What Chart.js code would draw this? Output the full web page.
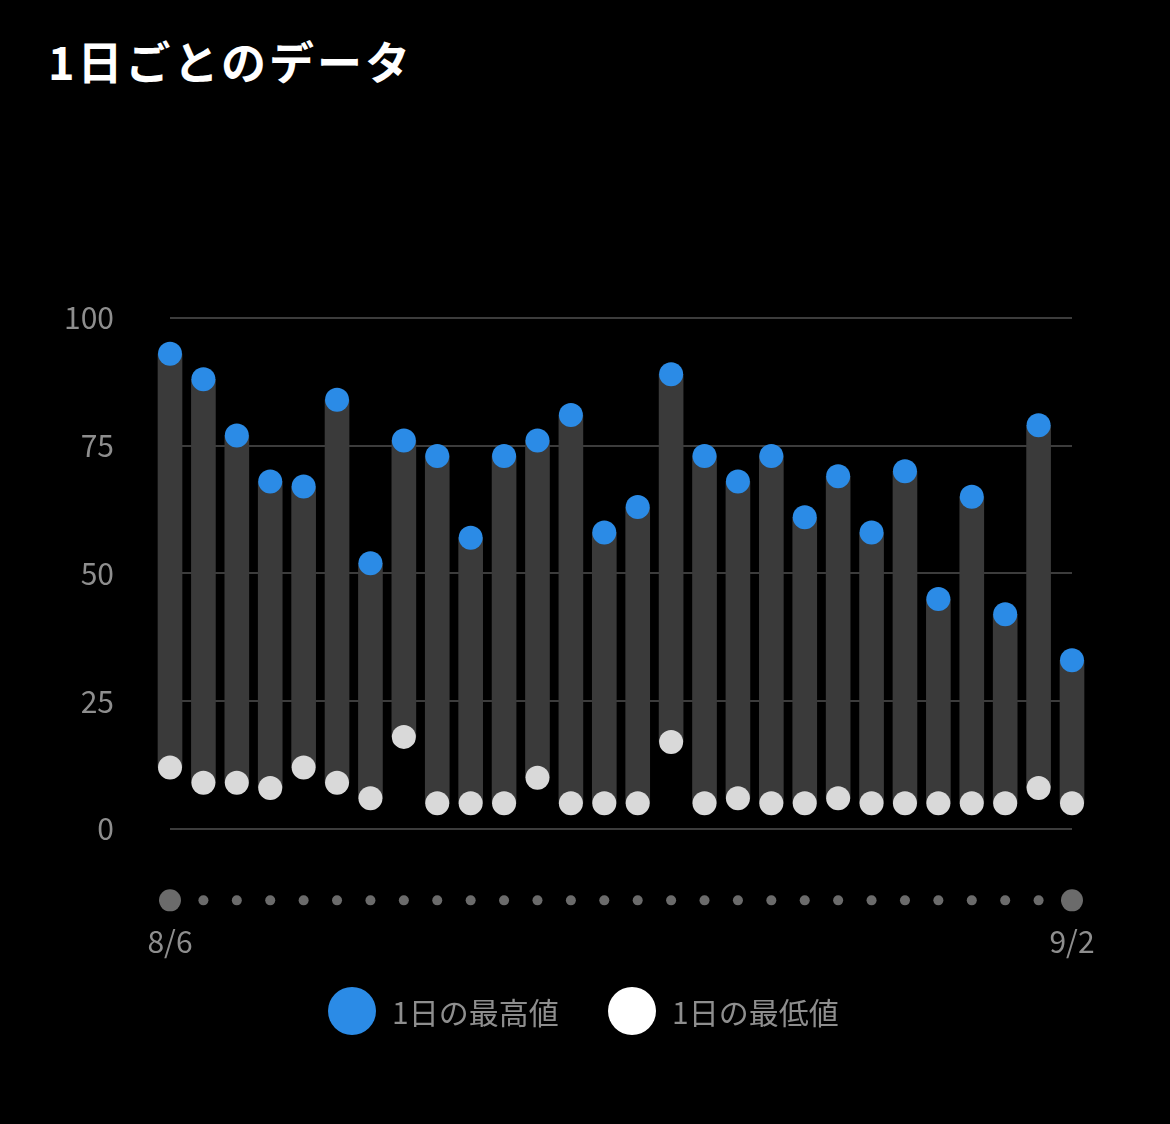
<!DOCTYPE html>
<html><head><meta charset="utf-8">
<script src="https://cdn.jsdelivr.net/npm/chart.js@4"></script>
<style>
body{margin:0;background:#000;width:1170px;height:1124px;overflow:hidden;font-family:"Noto Sans CJK JP",sans-serif}
#t{position:absolute;left:48px;top:28px;color:#fff;font-size:45px;font-weight:bold;letter-spacing:3px}
#c{position:absolute;left:0;top:0}
.lg{position:absolute;top:987px;display:flex;align-items:center;color:#8e8e8e;font-size:30px}
.dot{width:48px;height:48px;border-radius:50%;margin-right:16px}
</style></head><body>
<div id="t">1日ごとのデータ</div>
<canvas id="c" width="1170" height="1124"></canvas>
<div class="lg" style="left:328px"><div class="dot" style="background:#2b8be6"></div>1日の最高値</div>
<div class="lg" style="left:608px"><div class="dot" style="background:#fff"></div>1日の最低値</div>
<script>
const startLabel="8/6", endLabel="9/2";
const highs=[93,88,77,68,67,84,52,76,73,57,73,76,81,58,63,89,73,68,73,61,69,58,70,45,65,42,79,33];
const lows=[12,9,9,8,12,9,6,18,5,5,5,10,5,5,5,17,5,6,5,5,6,5,5,5,5,5,8,5];
const yTicks=[0,25,50,75,100];
const n=highs.length;
const labelPlugin={id:'lbl',afterDraw(ch){const c=ch.ctx,x=ch.scales.x;c.save();c.fillStyle='#8e8e8e';c.font='30px "Noto Sans CJK JP", sans-serif';c.textAlign='center';c.textBaseline='middle';c.fillText(startLabel,x.getPixelForValue(0),942);c.fillText(endLabel,x.getPixelForValue(n-1),942);c.restore();}};
new Chart(document.getElementById('c'),{
 data:{datasets:[
  {type:'scatter',order:1,clip:false,data:highs.map((v,i)=>({x:i,y:v})),backgroundColor:'#2b8be6',borderWidth:0,pointRadius:12},
  {type:'scatter',order:1,clip:false,data:lows.map((v,i)=>({x:i,y:v})),backgroundColor:'#d9d9d9',borderWidth:0,pointRadius:12},
  {type:'scatter',order:1,clip:false,data:highs.map((v,i)=>({x:i,y:-14})),backgroundColor:'#6b6b6b',borderWidth:0,pointRadius:highs.map((v,i)=>(i===0||i===n-1)?11:5)},
  {type:'bar',order:3,clip:false,data:highs.map((v,i)=>({x:i,y:[lows[i],v]})),backgroundColor:'#3a3a3a',barThickness:24}
 ]},
 options:{responsive:false,animation:false,events:[],
  layout:{padding:{left:50,right:98,top:318,bottom:193}},
  plugins:{legend:{display:false},tooltip:{enabled:false}},
  scales:{
   x:{type:'linear',offset:false,min:0,max:n-1,display:false},
   y:{min:-20,max:100,afterFit(s){s.width=120;},
      afterBuildTicks(s){s.ticks=yTicks.map(v=>({value:v}));},
      border:{display:false},
      grid:{color:'#3c3c3c',lineWidth:2,drawTicks:false},
      ticks:{color:'#8e8e8e',font:{size:30,family:'"Noto Sans CJK JP", sans-serif'},padding:56}}
  }},
 plugins:[labelPlugin]
});
</script></body></html>
